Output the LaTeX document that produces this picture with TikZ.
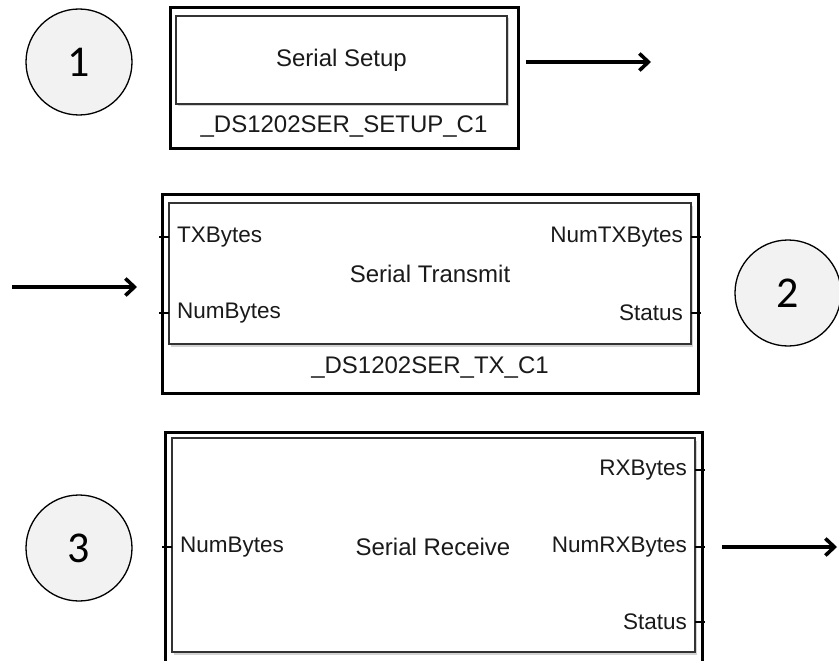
\documentclass[tikz,border=0pt]{standalone}
\usepackage{fontspec}
\setmainfont{Liberation Sans}
\newfontfamily\numfont{Carlito}
\usetikzlibrary{arrows.meta,positioning,shadows}
\definecolor{cInk}{HTML}{1A1A1A}
\definecolor{cFrame}{HTML}{333333}
\definecolor{cDisc}{HTML}{F2F2F2}

\begin{document}
\begin{tikzpicture}[
    x=1pt, y=-1pt,
    font=\fontsize{22.5}{26}\selectfont,
    marker/.style={circle, draw=black, fill=cDisc, line width=1.3pt,
      minimum size=106pt, inner sep=0pt, font=\numfont\fontsize{44}{48}\selectfont},
    outerblk/.style={rectangle, draw=black, line width=3pt, inner sep=0pt},
    innerblk/.style={rectangle, draw=cFrame, fill=white, line width=1.6pt, inner sep=0pt,
      drop shadow={opacity=0.35, shadow xshift=1.5pt, shadow yshift=-2.5pt}},
    title/.style={text=cInk, font=\fontsize{24}{28}\selectfont},
    port/.style={text=cInk, inner sep=0pt},
    tick/.style={line width=1.3pt, draw=black},
    flow/.style={-{Straight Barb[length=9pt,width=17pt]}, line width=3.6pt, draw=black}]

    \useasboundingbox (0,0) rectangle (839,661);
    \clip (0,0) rectangle (839,661);

    % numbered markers
    \node[marker] (m1) at (79,62)  {1};
    \node[marker] (m2) at (788,293) {2};
    \node[marker] (m3) at (79,548) {3};

    % serial setup block
    \node[outerblk, minimum width=348pt, minimum height=140pt] (setup) at (344,78) {};
    \node[innerblk, minimum width=331pt, minimum height=88pt] (setupin) at (341.5,60) {};
    \node[title] (setupt) at (setupin.center) {Serial Setup};
    \node[title] (setupn) at (344,127) {\_DS1202SER\_SETUP\_C1};

    % serial transmit block
    \node[outerblk, minimum width=536pt, minimum height=199pt] (tx) at (430,293.5) {};
    \node[innerblk, minimum width=522pt, minimum height=141pt] (txin) at (430,273.5) {};
    \node[title] (txt) at (txin.center) {Serial Transmit};
    \node[title] (txn) at (430,368) {\_DS1202SER\_TX\_C1};
    \node[port, anchor=west] (txbytes) at (177,237) {TXBytes};
    \node[port, anchor=west] (txnum)   at (177,313) {NumBytes};
    \node[port, anchor=east] (txcount) at (683,237) {NumTXBytes};
    \node[port, anchor=east] (txstat)  at (683,313) {Status};

    % serial receive block
    \node[outerblk, minimum width=537pt, minimum height=250pt] (rx) at (433.5,557) {};
    \node[innerblk, minimum width=523pt, minimum height=214pt] (rxin) at (433.5,545) {};
    \node[title] (rxt) at (433,547) {Serial Receive};
    \node[port, anchor=west] (rxnum)   at (180,547) {NumBytes};
    \node[port, anchor=east] (rxbytes) at (687,470) {RXBytes};
    \node[port, anchor=east] (rxcount) at (687,547) {NumRXBytes};
    \node[port, anchor=east] (rxstat)  at (687,622) {Status};

    % port ticks
    \foreach \py in {237,313} {
      \draw[tick] (159,\py) -- (169,\py);
      \draw[tick] (691,\py) -- (701,\py);
    }
    \draw[tick] (162,547) -- (172,547);
    \foreach \py in {470,547,622}
      \draw[tick] (695,\py) -- (705,\py);

    % signal arrows
    \coordinate (s1a) at (526,62);  \coordinate (s1b) at (651,62);
    \coordinate (s2a) at (12,287);  \coordinate (s2b) at (137,287);
    \coordinate (s3a) at (722,547); \coordinate (s3b) at (837,547);
    \draw[flow] (s1a) -- (s1b);
    \draw[flow] (s2a) -- (s2b);
    \draw[flow] (s3a) -- (s3b);
  \end{tikzpicture}
\end{document}
